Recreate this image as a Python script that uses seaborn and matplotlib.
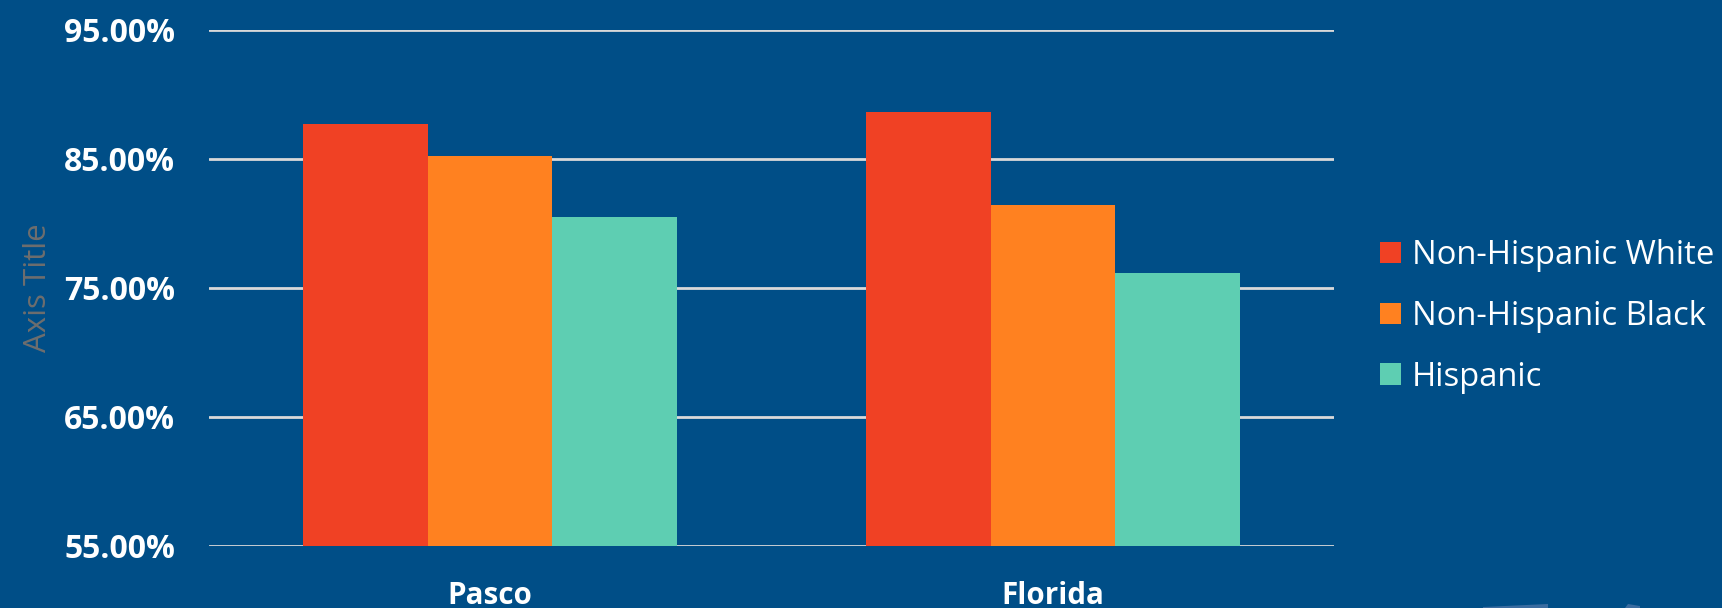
import matplotlib
matplotlib.use("Agg")
import matplotlib.pyplot as plt
from matplotlib.patches import Patch, Polygon
import matplotlib.ticker as mticker
import seaborn as sns
import pandas as pd

# Share of population by group, per region (percent)
regions = ["Pasco", "Florida"]
groups = ["Non-Hispanic White", "Non-Hispanic Black", "Hispanic"]
pasco_values = [87.66, 85.18, 80.45]
florida_values = [88.62, 81.41, 76.12]
y_ticks = [55, 65, 75, 85, 95]

bg = "#004E87"
palette = {"Non-Hispanic White": "#F04124",
           "Non-Hispanic Black": "#FF8120",
           "Hispanic": "#5ECEB2"}

rows = []
for region, vals in zip(regions, [pasco_values, florida_values]):
    for g, v in zip(groups, vals):
        rows.append({"region": region, "group": g, "value": v})
df = pd.DataFrame(rows)

sns.set_theme(style="white")
plt.rcParams["font.family"] = ["Open Sans", "DejaVu Sans"]

fig = plt.figure(figsize=(17.22, 6.08), dpi=100, facecolor=bg)
ax = fig.add_axes([0.1211, 0.1020, 0.6538, 0.8492])
ax.set_facecolor(bg)

sns.barplot(data=df, x="region", y="value", hue="group", order=regions,
            hue_order=groups, palette=palette, width=0.665, saturation=1,
            linewidth=0, ax=ax, legend=False, zorder=3)

ax.set_ylim(55, 95)
ax.set_yticks(y_ticks)
ax.yaxis.set_major_formatter(mticker.FuncFormatter(lambda v, _: f"{v:.2f}%"))
ax.grid(axis="y", color="#D9D9D9", linewidth=2, zorder=0)
ax.grid(axis="x", visible=False)
for s in ax.spines.values():
    s.set_visible(False)

ax.tick_params(axis="y", length=0, pad=24, labelsize=23, labelcolor="white")
ax.tick_params(axis="x", length=0, pad=25, labelsize=21.3, labelcolor="white")
for lab in ax.get_yticklabels() + ax.get_xticklabels():
    lab.set_fontweight("bold")

ax.set_xlabel("")
ax.set_ylabel("Axis Title", color="#6E6E6E", fontsize=22.5)
ax.yaxis.set_label_coords(-0.138, 0.5)

handles = [Patch(facecolor=palette[g], edgecolor="none", label=g) for g in groups]
fig.legend(handles=handles, loc="center left", bbox_to_anchor=(0.8014, 0.4795),
           frameon=False, fontsize=23.6, labelcolor="white",
           handlelength=0.64, handleheight=0.64, handletextpad=0.33,
           labelspacing=0.85, borderaxespad=0, borderpad=0)

# small lighter shapes along the lower right edge
fig.patches.append(Polygon([(1483 / 1722, 0), (1483 / 1722, 1 / 608),
                            (1548 / 1722, 4 / 608), (1548 / 1722, 0)],
                           closed=True, transform=fig.transFigure,
                           facecolor="#3A6CA0", edgecolor="none"))
fig.patches.append(Polygon([(1625 / 1722, 0), (1628 / 1722, 4 / 608),
                            (1640 / 1722, 2 / 608), (1640 / 1722, 0)],
                           closed=True, transform=fig.transFigure,
                           facecolor="#3A6CA0", edgecolor="none"))

fig.savefig("out.png", dpi=100, facecolor=bg)
